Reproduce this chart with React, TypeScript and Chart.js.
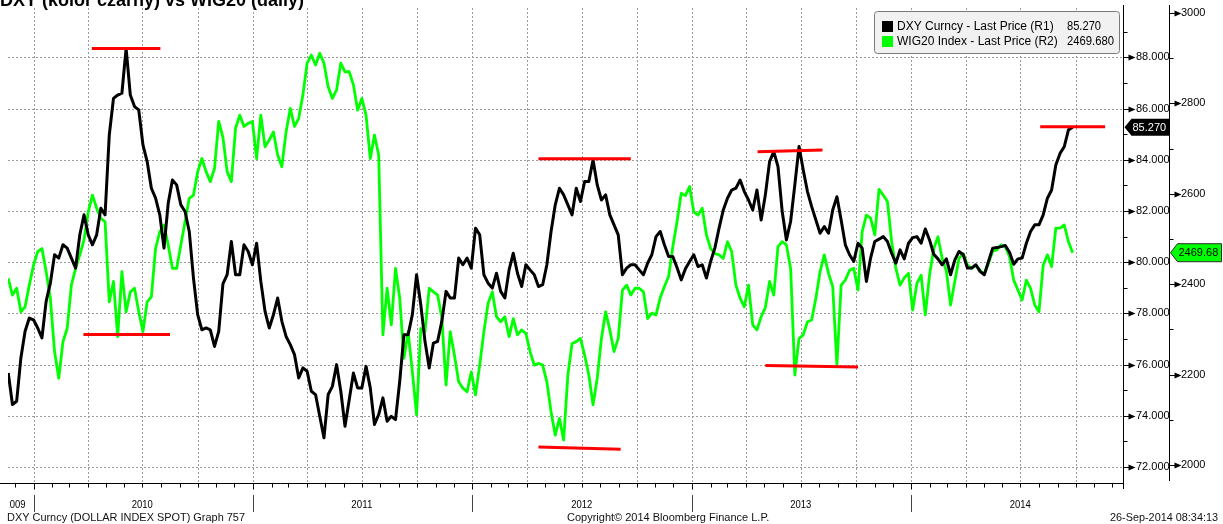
import React, { useEffect, useRef } from "react";
import { Chart, registerables } from "chart.js";

Chart.register(...registerables);

const FONT = '"Liberation Sans", Arial, sans-serif';

// ---- data -------------------------------------------------------------
const START_DATE = "2009-11-20"; // weekly closes, one value per week

const dxyLabel = "DXY Curncy - Last Price (R1)";
const wigLabel = "WIG20 Index - Last Price (R2)";

const dxyValues = [
  75.67, 74.44, 74.57, 76.26, 77.30, 77.82, 77.75, 77.43, 77.04, 78.47,
  79.18, 80.29, 80.16, 80.68, 80.55, 80.16, 79.77, 81.07, 81.85, 81.07,
  80.68, 81.07, 82.11, 81.85, 84.97, 86.40, 86.53, 86.60, 88.35, 86.53,
  86.08, 85.95, 84.58, 83.93, 82.89, 82.50, 81.85, 80.55, 82.30, 83.21,
  83.02, 82.24, 81.98, 81.20, 79.38, 77.95, 77.36, 77.43, 77.36, 76.71,
  77.30, 79.15, 79.51, 80.81, 79.51, 79.51, 80.68, 80.42, 79.90, 80.74,
  79.25, 78.08, 77.43, 77.95, 78.60, 77.69, 77.10, 76.78, 76.39, 75.48,
  75.87, 75.74, 74.96, 74.83, 73.98, 73.14, 74.83, 75.15, 76.00, 74.96,
  73.59, 74.63, 75.67, 75.09, 75.09, 75.93, 75.09, 73.66, 74.05, 74.70,
  73.79, 73.98, 73.85, 75.35, 77.17, 77.17, 77.95, 79.51, 78.34, 76.91,
  75.87, 76.84, 76.91, 77.69, 78.86, 78.60, 78.60, 80.16, 79.90, 80.16,
  79.77, 81.33, 81.07, 79.51, 79.18, 78.99, 79.57, 78.86, 78.60, 79.70,
  80.35, 79.57, 79.05, 79.90, 79.70, 79.51, 79.05, 79.12, 79.90, 81.20,
  82.24, 82.89, 82.63, 82.24, 81.85, 82.89, 82.37, 83.15, 83.15, 84.00,
  83.02, 82.43, 82.63, 81.85, 81.46, 81.07, 79.51, 79.77, 79.90, 79.90,
  79.70, 79.51, 79.96, 80.29, 81.00, 81.20, 80.68, 80.22, 80.22, 79.79,
  79.31, 79.74, 80.03, 80.29, 79.83, 79.90, 79.38, 80.03, 80.55, 81.33,
  82.04, 82.50, 82.82, 82.89, 83.21, 82.76, 82.43, 82.04, 82.82, 81.65,
  82.63, 83.93, 84.32, 83.73, 81.98, 80.87, 81.59, 83.02, 84.52, 83.60,
  82.76, 82.17, 81.65, 81.13, 81.39, 81.13, 82.04, 82.56, 81.65, 80.68,
  80.29, 80.03, 80.74, 80.55, 79.25, 80.16, 80.81, 80.90, 81.00, 80.81,
  80.35, 79.96, 80.48, 80.13, 80.74, 80.96, 81.00, 80.74, 81.30, 80.87,
  80.31, 80.13, 79.90, 80.13, 79.51, 80.08, 80.42, 80.29, 79.77, 79.77,
  79.90, 79.64, 79.51, 80.03, 80.55, 80.57, 80.61, 80.65, 80.39, 79.92,
  80.13, 80.16, 80.74, 81.20, 81.46, 81.46, 81.85, 82.50, 82.82, 83.80,
  84.25, 84.51, 85.17, 85.27,
];

const wigValues = [
  2413, 2376, 2391, 2339, 2350, 2398, 2442, 2472, 2479, 2428,
  2369, 2251, 2192, 2273, 2302, 2398, 2435, 2465, 2498, 2560,
  2597, 2568, 2546, 2538, 2361, 2406, 2284, 2428, 2339, 2383,
  2391, 2339, 2295, 2361, 2372, 2479, 2516, 2531, 2487, 2435,
  2435, 2487, 2538, 2590, 2597, 2649, 2678, 2649, 2627, 2656,
  2760, 2725, 2649, 2627, 2745, 2774, 2749, 2756, 2760, 2678,
  2774, 2704, 2719, 2737, 2686, 2660, 2737, 2789, 2749, 2767,
  2819, 2889, 2907, 2885, 2911, 2889, 2837, 2811, 2830, 2889,
  2870, 2870, 2841, 2785, 2811, 2774, 2678, 2730, 2686, 2288,
  2391, 2310, 2435, 2369, 2236, 2295, 2206, 2111, 2302, 2295,
  2391, 2383, 2376, 2325, 2177, 2295, 2243, 2184, 2170, 2162,
  2206, 2155, 2221, 2295, 2358, 2383, 2328, 2317, 2328, 2284,
  2324, 2288, 2299, 2291, 2251, 2221, 2225, 2221, 2184, 2118,
  2066, 2103, 2055, 2199, 2269, 2273, 2280, 2243, 2199, 2133,
  2192, 2280, 2339, 2299, 2251, 2280, 2387, 2398, 2376, 2391,
  2391, 2383, 2324, 2336, 2332, 2370, 2395, 2417, 2483, 2538,
  2601, 2596, 2616, 2560, 2553, 2568, 2509, 2479, 2468, 2465,
  2457, 2494, 2472, 2398, 2369, 2350, 2398, 2310, 2299, 2328,
  2348, 2406, 2376, 2483, 2494, 2487, 2435, 2199, 2280, 2288,
  2317, 2321, 2369, 2428, 2465, 2424, 2395, 2221, 2398, 2409,
  2431, 2435, 2387, 2516, 2553, 2546, 2509, 2610, 2597, 2583,
  2494, 2435, 2398, 2414, 2424, 2343, 2402, 2420, 2332, 2420,
  2479, 2505, 2457, 2429, 2354, 2406, 2457, 2468, 2442, 2435,
  2442, 2431, 2422, 2446, 2473, 2476, 2487, 2483, 2461, 2409,
  2387, 2365, 2409, 2391, 2354, 2339, 2442, 2465, 2439, 2524,
  2524, 2531, 2494, 2469.68,
];

// red support / resistance segments
const redStart = ["2010-04-08", "2010-03-25", "2012-04-20", "2012-04-20", "2013-04-20", "2013-05-03", "2014-08-03"];
const redEnd = ["2010-07-31", "2010-08-16", "2012-09-21", "2012-09-04", "2013-08-06", "2013-10-04", "2014-11-19"];
const redAxis = ["y", "y2", "y", "y2", "y", "y2", "y"];
const redFrom = [88.35, 2289, 84.04, 2040, 84.31, 2220, 85.29];
const redTo = [88.35, 2289, 84.04, 2035, 84.38, 2217, 85.29];

const dxyTicks = [72, 74, 76, 78, 80, 82, 84, 86, 88];
const dxyMinorTicks = [73, 75, 77, 79, 81, 83, 85, 87, 89];
const wigTicks = [2000, 2200, 2400, 2600, 2800, 3000];
const wigMinorTicks = [2100, 2300, 2500, 2700, 2900];
const years = [2009, 2010, 2011, 2012, 2013, 2014];

const titleText = "DXY (kolor czarny) vs WIG20 (daily)";
const footerLeft = "DXY Curncy (DOLLAR INDEX SPOT) Graph 757";
const footerMid = "Copyright\u00A9 2014 Bloomberg Finance L.P.";
const footerRight = "26-Sep-2014 08:34:13";

// ---- helpers ----------------------------------------------------------
function parseDate(s: string): Date {
  const [y, m, d] = s.split("-").map(Number);
  return new Date(Date.UTC(y, m - 1, d));
}
function toYear(d: Date): number {
  const y = d.getUTCFullYear();
  const a = Date.UTC(y, 0, 1);
  const b = Date.UTC(y + 1, 0, 1);
  return y + (d.getTime() - a) / (b - a);
}
function monthYear(y: number, m: number): number {
  return toYear(new Date(Date.UTC(y, m, 1)));
}

const X_MIN = 2009.8838;
const X_MAX = 2014.9636;

const start = parseDate(START_DATE).getTime();
const weekX = dxyValues.map((_, i) => toYear(new Date(start + i * 7 * 86400000)));

const dxyData = dxyValues.map((v, i) => ({ x: weekX[i], y: v }));
const wigData = wigValues.map((v, i) => ({ x: weekX[i], y: v }));

const redDatasets = redStart.map((s, i) => ({
  label: "red" + i,
  data: [
    { x: toYear(parseDate(s)), y: redFrom[i] },
    { x: toYear(parseDate(redEnd[i])), y: redTo[i] },
  ],
  yAxisID: redAxis[i],
  borderColor: "#ff0000",
  borderWidth: 3,
  pointRadius: 0,
  order: 0,
}));

function line(ctx: CanvasRenderingContext2D, x1: number, y1: number, x2: number, y2: number) {
  ctx.beginPath();
  ctx.moveTo(x1, y1);
  ctx.lineTo(x2, y2);
  ctx.stroke();
}

const decorPlugin = {
  id: "decor",
  beforeDatasetsDraw(chart: any) {
    const { ctx, chartArea: a, scales } = chart;
    const xs = scales.x;
    const ys = scales.y;
    ctx.save();
    ctx.strokeStyle = "#9a9a9a";
    ctx.lineWidth = 1;
    ctx.setLineDash([2, 2]);
    for (const v of dxyTicks) {
      const py = Math.round(ys.getPixelForValue(v)) + 0.5;
      line(ctx, 8, py, a.right, py);
    }
    for (const y of years) {
      for (const m of [0, 3, 6, 9]) {
        const q = monthYear(y, m);
        if (q < X_MIN || q > X_MAX) continue;
        const px = Math.round(xs.getPixelForValue(q)) + 0.5;
        line(ctx, px, 8, px, a.bottom);
      }
    }
    ctx.restore();
  },
  afterDatasetsDraw(chart: any) {
    const { ctx, chartArea: a, scales } = chart;
    const xs = scales.x;
    const ys = scales.y;
    const y2 = scales.y2;
    ctx.save();
    ctx.setLineDash([]);
    ctx.strokeStyle = "#000";
    ctx.fillStyle = "#000";
    ctx.lineWidth = 1;

    // bottom axis
    const by = Math.round(a.bottom) + 0.5;
    line(ctx, 0, by, a.right, by);
    for (const y of years) {
      for (let m = 0; m < 12; m++) {
        const v = monthYear(y, m);
        if (v < X_MIN || v > X_MAX) continue;
        const px = Math.round(xs.getPixelForValue(v)) + 0.5;
        line(ctx, px, by, px, by + (m === 0 ? 6 : 4));
      }
    }
    // year separators + labels
    ctx.font = `11px ${FONT}`;
    ctx.textBaseline = "middle";
    ctx.strokeStyle = "#444";
    for (const y of years) {
      const s = monthYear(y, 0);
      if (s >= X_MIN && s <= X_MAX) {
        const px = Math.round(xs.getPixelForValue(s)) + 0.5;
        line(ctx, px, 495, px, 512);
      }
    }
    ctx.save();
    ctx.beginPath();
    ctx.rect(9, 490, a.right - 9, 24);
    ctx.clip();
    for (const y of years) {
      const c = xs.getPixelForValue(monthYear(y, 6));
      if (c < a.left) {
        ctx.textAlign = "right";
        ctx.fillText(String(y), xs.getPixelForValue(monthYear(y + 1, 0)) - 8, 505, 21);
      } else {
        ctx.textAlign = "center";
        ctx.fillText(String(y), c, 505, 21);
      }
    }
    ctx.restore();

    // right axes lines
    ctx.strokeStyle = "#000";
    const ax1 = Math.round(ys.left) + 0.5;
    const ax2 = Math.round(y2.left) + 0.5;
    line(ctx, ax1, 5, ax1, 489);
    line(ctx, ax2, 5, ax2, 481);

    const arrow = (ax: number, py: number) => {
      line(ctx, ax, py, ax + 7, py);
      ctx.beginPath();
      ctx.moveTo(ax + 5, py - 3);
      ctx.lineTo(ax + 12, py);
      ctx.lineTo(ax + 5, py + 3);
      ctx.closePath();
      ctx.fill();
    };
    for (const v of dxyTicks) arrow(ax1, Math.round(ys.getPixelForValue(v)) + 0.5);
    for (const v of wigTicks) arrow(ax2, Math.round(y2.getPixelForValue(v)) + 0.5);
    for (const v of dxyMinorTicks) {
      const py = Math.round(ys.getPixelForValue(v)) + 0.5;
      if (py > 5 && py < a.bottom) line(ctx, ax1, py, ax1 + 4, py);
    }
    for (const v of wigMinorTicks) {
      const py = Math.round(y2.getPixelForValue(v)) + 0.5;
      line(ctx, ax2, py, ax2 + 4, py);
    }

    // last value tags
    const dLast = dxyValues[dxyValues.length - 1];
    const wLast = wigValues[wigValues.length - 1];
    const t1 = ys.getPixelForValue(dLast);
    ctx.beginPath();
    ctx.moveTo(ax1 + 1, t1);
    ctx.lineTo(ax1 + 8, t1 - 8.5);
    ctx.lineTo(ax2 - 0.5, t1 - 8.5);
    ctx.lineTo(ax2 - 0.5, t1 + 8.5);
    ctx.lineTo(ax1 + 8, t1 + 8.5);
    ctx.closePath();
    ctx.fillStyle = "#000";
    ctx.fill();
    ctx.fillStyle = "#fff";
    ctx.textAlign = "left";
    ctx.font = `11px ${FONT}`;
    ctx.fillText(dLast.toFixed(3), ax1 + 9, t1 + 0.5, 35);

    const t2 = y2.getPixelForValue(wLast);
    ctx.beginPath();
    ctx.moveTo(ax2 + 1, t2);
    ctx.lineTo(ax2 + 8, t2 - 9);
    ctx.lineTo(1221.5, t2 - 9);
    ctx.lineTo(1221.5, t2 + 9);
    ctx.lineTo(ax2 + 8, t2 + 9);
    ctx.closePath();
    ctx.fillStyle = "#00ff00";
    ctx.fill();
    ctx.strokeStyle = "#2a2a2a";
    ctx.stroke();
    ctx.fillStyle = "#000";
    ctx.fillText(wLast.toFixed(2), ax2 + 9, t2 + 0.5, 42);
    ctx.restore();
  },
  afterDraw(chart: any) {
    const { ctx } = chart;
    ctx.save();
    // legend
    const lx = 874.5, ly = 11.5, lw = 245, lh = 42, r = 3;
    ctx.beginPath();
    ctx.moveTo(lx + r, ly);
    ctx.lineTo(lx + lw - r, ly);
    ctx.quadraticCurveTo(lx + lw, ly, lx + lw, ly + r);
    ctx.lineTo(lx + lw, ly + lh - r);
    ctx.quadraticCurveTo(lx + lw, ly + lh, lx + lw - r, ly + lh);
    ctx.lineTo(lx + r, ly + lh);
    ctx.quadraticCurveTo(lx, ly + lh, lx, ly + lh - r);
    ctx.lineTo(lx, ly + r);
    ctx.quadraticCurveTo(lx, ly, lx + r, ly);
    ctx.closePath();
    ctx.fillStyle = "#f1f1f1";
    ctx.fill();
    ctx.strokeStyle = "#7a7a7a";
    ctx.lineWidth = 1;
    ctx.stroke();

    ctx.fillStyle = "#000";
    ctx.fillRect(882, 21, 11, 11);
    ctx.fillStyle = "#00ff00";
    ctx.fillRect(882, 36, 11, 11);
    ctx.fillStyle = "#000";
    ctx.font = `12px ${FONT}`;
    ctx.textBaseline = "middle";
    ctx.textAlign = "left";
    ctx.fillText(dxyLabel, 897, 26.5, 162);
    ctx.fillText(wigLabel, 897, 41.5, 163);
    ctx.fillText(dxyValues[dxyValues.length - 1].toFixed(3), 1067, 26.5, 34);
    ctx.fillText(wigValues[wigValues.length - 1].toFixed(3), 1067, 41.5, 47);

    // title (cut off at the top edge)
    ctx.font = `bold 18px ${FONT}`;
    ctx.textBaseline = "alphabetic";
    ctx.fillText(titleText, 0, 6, 322);

    // footer
    ctx.font = `11px ${FONT}`;
    ctx.textBaseline = "middle";
    ctx.fillStyle = "#111";
    ctx.fillText(footerLeft, 7, 518, 238);
    ctx.fillText(footerMid, 567, 518, 210);
    ctx.textAlign = "right";
    ctx.fillText(footerRight, 1218, 518, 108);
    ctx.restore();
  },
};

export default function App() {
  const ref = useRef<HTMLCanvasElement | null>(null);

  useEffect(() => {
    if (!ref.current) return;
    Chart.defaults.font.family = FONT;
    const chart = new Chart(ref.current, {
      type: "line",
      data: {
        datasets: [
          ...redDatasets,
          {
            label: dxyLabel,
            data: dxyData,
            yAxisID: "y",
            borderColor: "#000000",
            borderWidth: 3,
            pointRadius: 0,
            borderJoinStyle: "round",
            order: 1,
          },
          {
            label: wigLabel,
            data: wigData,
            yAxisID: "y2",
            borderColor: "#00ff00",
            borderWidth: 2.8,
            pointRadius: 0,
            borderJoinStyle: "round",
            order: 2,
          },
        ],
      },
      options: {
        responsive: false,
        maintainAspectRatio: false,
        devicePixelRatio: 1,
        animation: false,
        events: [],
        layout: { padding: { left: 8, top: 5, right: 0, bottom: 41 } },
        plugins: {
          legend: { display: false },
          tooltip: { enabled: false },
          title: { display: false },
        },
        scales: {
          x: { type: "linear", min: X_MIN, max: X_MAX, display: false },
          y: {
            type: "linear",
            position: "right",
            weight: 0,
            min: 71.375,
            max: 90.047,
            grid: { display: false, drawTicks: false },
            border: { display: false },
            afterBuildTicks: (s: any) => {
              s.ticks = dxyTicks.map((v) => ({ value: v }));
            },
            afterFit: (s: any) => {
              s.width = 46;
              s.paddingTop = 0;
              s.paddingBottom = 0;
            },
            ticks: {
              autoSkip: false,
              padding: 13,
              color: "#000",
              font: { family: FONT, size: 11 },
              callback: (v: any) => Number(v).toFixed(3),
            },
          },
          y2: {
            type: "linear",
            position: "right",
            weight: 1,
            min: 1960.2,
            max: 3017.7,
            grid: { display: false, drawTicks: false },
            border: { display: false },
            afterBuildTicks: (s: any) => {
              s.ticks = wigTicks.map((v) => ({ value: v }));
            },
            afterFit: (s: any) => {
              s.width = 54;
              s.paddingTop = 0;
              s.paddingBottom = 0;
            },
            ticks: {
              autoSkip: false,
              padding: 12,
              color: "#000",
              font: { family: FONT, size: 11 },
              callback: (v: any) => String(v),
            },
          },
        },
      },
      plugins: [decorPlugin],
    } as any);
    return () => chart.destroy();
  }, []);

  return (
    <div style={{ position: "fixed", left: 0, top: 0, width: 1223, height: 524, background: "#fff" }}>
      <canvas ref={ref} width={1223} height={524} style={{ display: "block", width: 1223, height: 524 }} />
    </div>
  );
}
